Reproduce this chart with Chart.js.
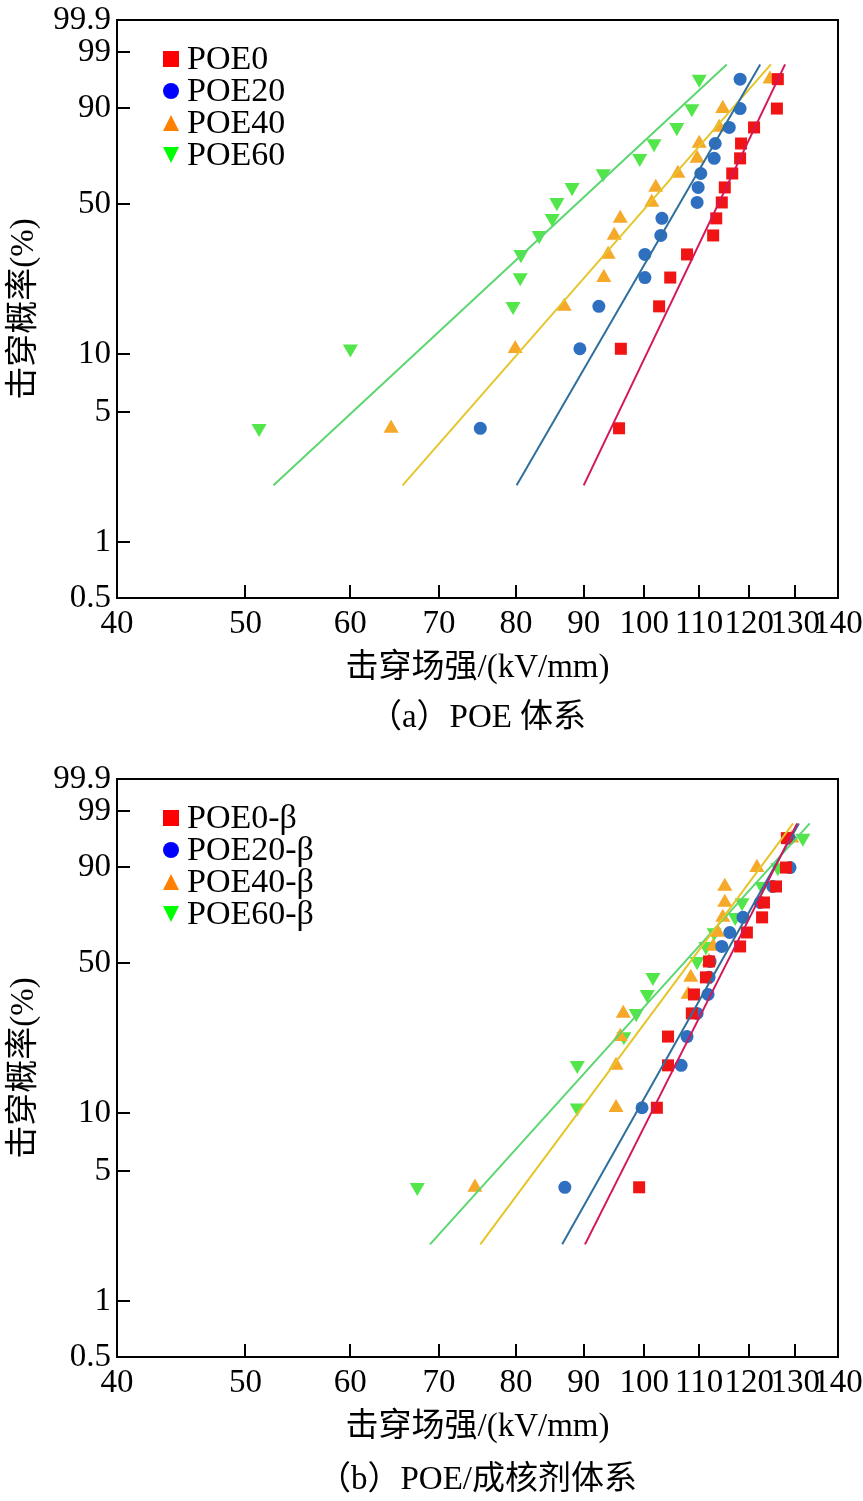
<!DOCTYPE html>
<html>
<head>
<meta charset="utf-8">
<script src="https://cdn.jsdelivr.net/npm/chart.js@4.4.1/dist/chart.umd.min.js"></script>
<style>
  html, body { margin: 0; padding: 0; background: #fff; overflow: hidden; }
  .panel { position: relative; width: 863px; }
</style>
</head>
<body>
<div class="panel"><canvas id="chartA" width="863" height="759"></canvas></div>
<div class="panel"><canvas id="chartB" width="863" height="743"></canvas></div>
<script>
// axis ticks
const xTicks = [40, 50, 60, 70, 80, 90, 100, 110, 120, 130, 140];
const xTickLabels = ['40', '50', '60', '70', '80', '90', '100', '110', '120', '130', '140'];
const yTicks = [0.5, 1, 5, 10, 50, 90, 99, 99.9];
const yTickLabels = ['0.5', '1', '5', '10', '50', '90', '99', '99.9'];

// (a) POE 体系 - breakdown probability (%) of each ranked sample
const seriesA = ['POE0', 'POE20', 'POE40', 'POE60'];
const probA = [4.1, 10.7, 17.5, 24.1, 30.8, 37.3, 43.9, 50.6, 57.3, 63.7, 70.6, 77.1, 83.5, 89.8, 96.3];
const poe0 = [95.7, 96.0, 102.6, 104.6, 107.7, 112.7, 113.3, 114.4, 115.0, 116.5, 118.1, 118.3, 121.0, 125.9, 126.1];
const poe20 = [75.2, 89.4, 92.4, 100.1, 100.1, 102.9, 103.1, 109.6, 109.8, 110.3, 112.9, 113.1, 115.9, 118.1, 118.1];
const poe40 = [64.4, 79.9, 87.0, 93.2, 93.9, 94.9, 95.9, 101.3, 102.0, 106.0, 109.6, 110.0, 113.9, 114.6, 124.4];
const poe60 = [51.2, 60.0, 79.6, 80.6, 80.7, 83.3, 85.2, 85.9, 88.2, 93.1, 99.2, 101.7, 105.8, 108.6, 110.0];
// Weibull fit lines: field strength at the two end probabilities
const fitProb = [2.03, 98.1];
const fitA = [[90.0, 127.7], [80.1, 122.3], [65.7, 124.6], [52.5, 115.4]];

// (b) POE/成核剂体系
const seriesB = ['POE0-β', 'POE20-β', 'POE40-β', 'POE60-β'];
const probB = [4.1, 10.7, 17.5, 24.1, 30.8, 37.3, 43.9, 50.6, 57.3, 63.7, 70.6, 77.1, 83.5, 89.8, 96.3];
const poe0b = [99.1, 102.2, 104.2, 104.2, 108.6, 109.0, 111.3, 111.9, 118.1, 119.5, 122.7, 123.1, 125.7, 127.9, 128.1];
const poe20b = [87.1, 99.6, 106.6, 107.7, 109.6, 111.7, 111.9, 112.1, 114.4, 116.0, 118.7, 122.3, 125.0, 128.8, 128.6];
const poe40b = [74.5, 95.2, 95.2, 95.9, 96.4, 107.9, 108.4, 111.9, 112.7, 113.6, 114.6, 115.0, 115.0, 121.6, 129.2];
const poe60b = [67.4, 89.0, 89.0, 96.5, 98.6, 100.5, 101.5, 109.6, 111.3, 112.9, 117.1, 118.5, 122.7, 126.1, 131.7];
const fitB = [[90.2, 130.4], [86.7, 130.8], [75.2, 129.5], [68.9, 133.3]];

// styles
const FONT = "'Liberation Serif', 'Times New Roman', 'Noto Sans CJK SC', serif";
const pointColors = ['#f01414', '#2e6fc0', '#f6a929', '#52e64a'];
const lineColors = ['#d5165a', '#2e6f9e', '#e5c52a', '#5cd670'];
const legendColors = ['#ff0000', '#0000ff', '#ff8000', '#00ff00'];
const markers = [
  { style: 'rect', rot: 0, r: 8.5 },
  { style: 'circle', rot: 0, r: 6.5 },
  { style: 'triangle', rot: 0, r: 8.7 },
  { style: 'triangle', rot: 180, r: 8.7 }
];

// Weibull probability transform
const weib = p => Math.log(-Math.log(1 - p / 100));

// frame + inward tick marks
const frameTicks = {
  id: 'frameTicks',
  afterDraw(chart) {
    const { ctx, chartArea: a, scales: { x, y } } = chart;
    ctx.save();
    ctx.strokeStyle = '#000';
    ctx.lineWidth = 2;
    ctx.strokeRect(a.left, a.top, a.right - a.left, a.bottom - a.top);
    ctx.beginPath();
    xTicks.slice(1).forEach(v => {
      const px = Math.round(x.getPixelForValue(v));
      ctx.moveTo(px, a.bottom);
      ctx.lineTo(px, a.bottom - 13);
    });
    yTicks.slice(1, -1).forEach(p => {
      const py = Math.round(y.getPixelForValue(weib(p)));
      ctx.moveTo(a.left, py);
      ctx.lineTo(a.left + 13, py);
    });
    ctx.stroke();
    ctx.restore();
  }
};

// legend inside the plot (top left) and the panel caption
function legendMark(ctx, kind, cx, cy, color) {
  ctx.fillStyle = color;
  ctx.beginPath();
  if (kind === 0) {
    ctx.rect(cx - 8, cy - 8, 16, 16);
  } else if (kind === 1) {
    ctx.arc(cx, cy, 8, 0, Math.PI * 2);
  } else if (kind === 2) {
    ctx.moveTo(cx, cy - 8); ctx.lineTo(cx + 8, cy + 8); ctx.lineTo(cx - 8, cy + 8);
  } else {
    ctx.moveTo(cx, cy + 8); ctx.lineTo(cx + 8, cy - 8); ctx.lineTo(cx - 8, cy - 8);
  }
  ctx.closePath();
  ctx.fill();
}
const insideLegend = {
  id: 'insideLegend',
  afterDraw(chart, args, opts) {
    const { ctx, chartArea: a } = chart;
    ctx.save();
    ctx.font = '34px ' + FONT;
    ctx.textBaseline = 'middle';
    opts.labels.forEach((txt, i) => {
      const cy = a.top + 39 + i * 32;
      legendMark(ctx, i, a.left + 54, cy, legendColors[i]);
      ctx.fillStyle = '#000';
      ctx.textAlign = 'left';
      ctx.fillText(txt, a.left + 70, cy + 1);
    });
    // caption under the axis title
    ctx.font = '33px ' + FONT;
    ctx.textAlign = 'center';
    ctx.fillStyle = '#000';
    ctx.fillText(opts.caption, (a.left + a.right) / 2, opts.captionY);
    ctx.restore();
  }
};

function makeChart(id, names, xs, prob, fits, caption, captionY) {
  const canvas = document.getElementById(id);
  const datasets = [];
  names.forEach((name, i) => {
    datasets.push({
      label: name,
      data: xs[i].map((v, k) => ({ x: v, y: weib(prob[k]) })),
      pointStyle: markers[i].style,
      rotation: markers[i].rot,
      pointRadius: markers[i].r,
      backgroundColor: pointColors[i],
      borderColor: pointColors[i],
      borderWidth: 0,
      order: 1
    });
  });
  names.forEach((name, i) => {
    datasets.push({
      label: name + ' fit',
      data: fits[i].map((v, k) => ({ x: v, y: weib(fitProb[k]) })),
      showLine: true,
      pointRadius: 0,
      borderColor: lineColors[i],
      borderWidth: 2,
      fill: false,
      order: 0
    });
  });

  const tickFont = { family: FONT, size: 33 };
  new Chart(canvas, {
    type: 'scatter',
    data: { datasets },
    plugins: [frameTicks, insideLegend],
    options: {
      responsive: false,
      animation: false,
      layout: { padding: { left: 0, right: 25, top: 20, bottom: canvas.height - 693 } },
      scales: {
        x: {
          type: 'logarithmic',
          min: 40,
          max: 140,
          afterBuildTicks: s => { s.ticks = xTicks.map(v => ({ value: v })); },
          afterFit: s => { s.height = 95; s.paddingLeft = 0; s.paddingRight = 0; },
          grid: { display: false, drawTicks: false },
          border: { display: false },
          ticks: {
            autoSkip: false, maxRotation: 0, minRotation: 0, padding: 7,
            color: '#000', font: tickFont,
            callback: (v, i) => xTickLabels[i]
          },
          title: {
            display: true, text: '击穿场强/(kV/mm)', color: '#000',
            font: tickFont, padding: { top: 0, bottom: 5 }
          }
        },
        y: {
          type: 'linear',
          min: weib(0.5),
          max: weib(99.9),
          afterBuildTicks: s => { s.ticks = yTicks.map(p => ({ value: weib(p) })); },
          afterFit: s => { s.width = 117; s.paddingTop = 0; s.paddingBottom = 0; },
          grid: { display: false, drawTicks: false },
          border: { display: false },
          ticks: {
            autoSkip: false, padding: 6, color: '#000', font: tickFont,
            callback: (v, i) => yTickLabels[i]
          },
          title: {
            display: true, text: '击穿概率(%)', color: '#000',
            font: tickFont, padding: { top: 5, bottom: 0 }
          }
        }
      },
      plugins: {
        legend: { display: false },
        tooltip: { enabled: false },
        title: { display: false },
        insideLegend: { labels: names, caption: caption, captionY: captionY }
      }
    }
  });
}

makeChart('chartA', seriesA, [poe0, poe20, poe40, poe60], probA, fitA, '（a）POE 体系', 718);
makeChart('chartB', seriesB, [poe0b, poe20b, poe40b, poe60b], probB, fitB, '（b）POE/成核剂体系', 721);
</script>
</body>
</html>
